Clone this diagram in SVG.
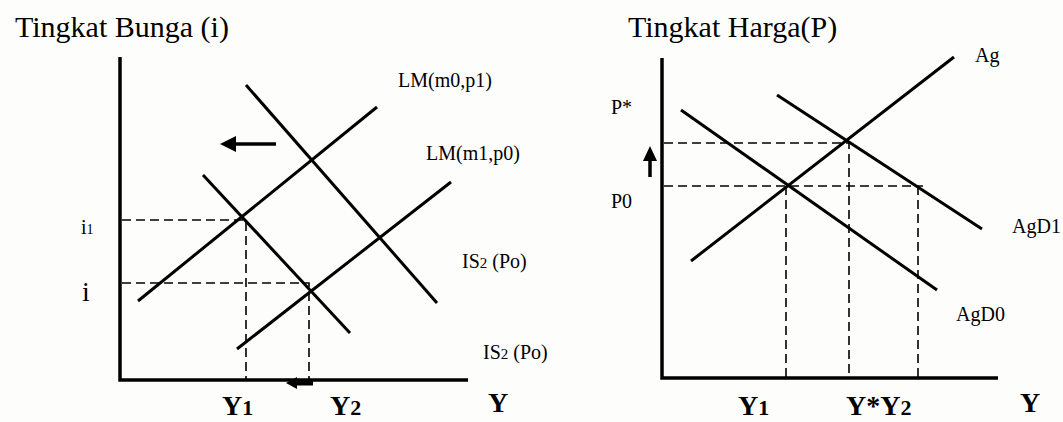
<svg xmlns="http://www.w3.org/2000/svg" width="1063" height="422" viewBox="0 0 1063 422">
<defs>
<style>
text{font-family:"Liberation Serif","Times New Roman",serif;fill:#000}
.t{font-size:30px}
.l{font-size:20px}
.b{font-size:28px;font-weight:bold}
.ax{stroke:#000;stroke-width:3.5;fill:none}
.ln{stroke:#000;stroke-width:3;fill:none}
.d{stroke:#000;stroke-width:1.6;stroke-dasharray:9 5;fill:none}
</style>
</defs>
<rect width="1063" height="422" fill="#fdfefc"/>
<g id="left-chart">
<text class="t" x="15" y="37">Tingkat Bunga (i)</text>
<g id="left-axes">
<path class="ax" d="M120 57 V380 H468"/>
</g>
<g id="connectors-left">
<line class="ln" x1="138" y1="301" x2="377" y2="107"/>
<line class="ln" x1="237" y1="349" x2="451" y2="182"/>
<line class="ln" x1="246" y1="85" x2="437" y2="303"/>
<line class="ln" x1="203" y1="175" x2="350" y2="333"/>
<path class="d" d="M122 220 H246 V379"/>
<path class="d" d="M122 283 H309 V379"/>
<line x1="276" y1="144" x2="232" y2="144" stroke="#000" stroke-width="3.5"/>
<polygon points="220,144 236,136 236,152" fill="#000"/>
<line x1="313" y1="383" x2="296" y2="383" stroke="#000" stroke-width="5"/>
<polygon points="286,383 297,377 297,389" fill="#000"/>
</g>
<text class="l" x="398" y="87">LM(m0,p1)</text>
<text class="l" x="426" y="160">LM(m1,p0)</text>
<text class="l" x="462" y="268">IS<tspan font-size="15">2</tspan> (Po)</text>
<text class="l" x="483" y="359">IS<tspan font-size="15">2</tspan> (Po)</text>
<text x="81" y="234" font-size="20">i<tspan font-size="14">1</tspan></text>
<text x="82" y="301" font-size="28">i</text>
<text class="b" x="222" y="415">Y<tspan font-size="22">1</tspan></text>
<text class="b" x="330" y="415">Y<tspan font-size="22">2</tspan></text>
<text class="b" x="488" y="412">Y</text>
</g>
<g id="right-chart">
<text class="t" x="628" y="37">Tingkat Harga(P)</text>
<g id="right-axes">
<path class="ax" d="M662 58 V378 H998"/>
</g>
<g id="connectors-right">
<line class="ln" x1="691" y1="261" x2="954" y2="57"/>
<line class="ln" x1="777" y1="95" x2="982" y2="229"/>
<line class="ln" x1="681" y1="110" x2="937" y2="290"/>
<path class="d" d="M664 143 H849 V377"/>
<path class="d" d="M664 186 H923"/>
<path class="d" d="M786 186 V377"/>
<path class="d" d="M918 186 V377"/>
<line x1="650" y1="177" x2="650" y2="158" stroke="#000" stroke-width="3.5"/>
<polygon points="650,146 643,161 657,161" fill="#000"/>
</g>
<text class="l" x="975" y="62">Ag</text>
<text class="l" x="611" y="114">P*</text>
<text class="l" x="611" y="208">P0</text>
<text class="l" x="1012" y="233">AgD1</text>
<text class="l" x="956" y="321">AgD0</text>
<text class="b" x="738" y="415">Y<tspan font-size="22">1</tspan></text>
<text class="b" x="846" y="415">Y*Y<tspan font-size="22">2</tspan></text>
<text class="b" x="1020" y="412">Y</text>
</g>
</svg>
